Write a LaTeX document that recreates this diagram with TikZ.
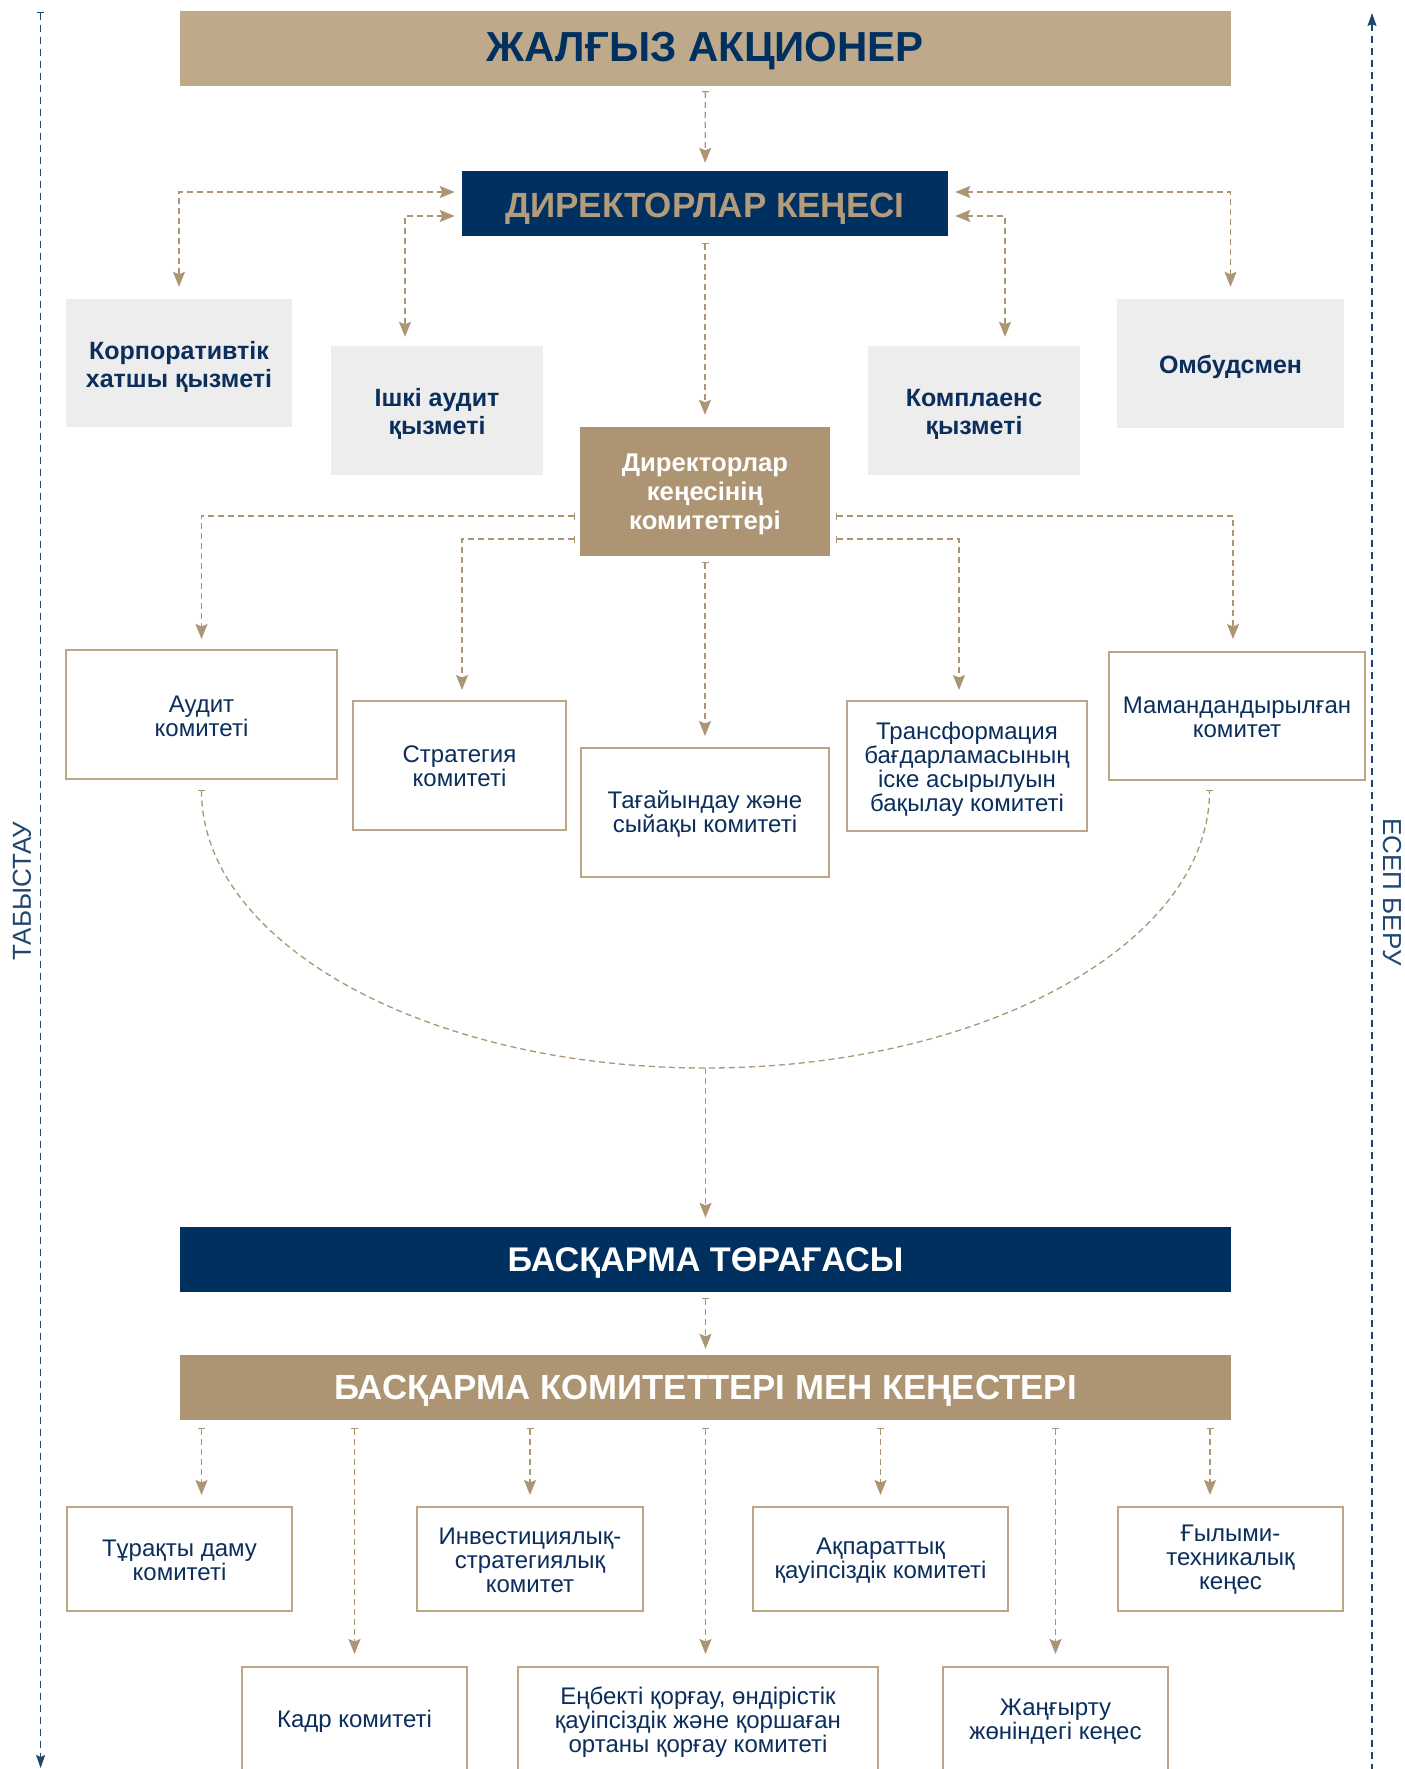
\documentclass[tikz,border=0pt]{standalone}
\usepackage{fontspec}
\setmainfont{Liberation Sans}
\usetikzlibrary{arrows.meta}
\definecolor{navy}{HTML}{00305F}
\definecolor{tanL}{HTML}{BFA98B}
\definecolor{tanD}{HTML}{AD9472}
\definecolor{tanT}{HTML}{B39C7B}
\definecolor{lineT}{HTML}{AB9573}
\definecolor{bord}{HTML}{BBA687}
\definecolor{grayb}{HTML}{EDEDED}
\definecolor{txt}{HTML}{0B2E5C}
\definecolor{sidec}{HTML}{1F466F}
\begin{document}
\begin{tikzpicture}[x=1pt,y=-1pt,
  box/.style={inner sep=0pt, align=center, anchor=center},
  head/.style={box, text depth=0pt},
  graybox/.style={box, fill=grayb},
  gtext/.style={box, text=txt, font=\bfseries\fontsize{25}{28}\selectfont},
  wbox/.style={box, fill=white, draw=bord, line width=2pt},
  wtext/.style={box, text=txt, font=\fontsize{24}{24}\selectfont},
  conn/.style={draw=lineT, line width=1.3pt, dash pattern=on 6pt off 4pt},
  sideline/.style={draw=sidec, line width=1.3pt, dash pattern=on 7pt off 5pt},
  bt/.style={arrows={Bar[width=7pt,line width=0.9pt]-Stealth[length=15pt,width=12pt,inset=2.5pt]}},
  both/.style={arrows={Stealth[length=15pt,width=12pt,inset=2.5pt]-Stealth[length=15pt,width=12pt,inset=2.5pt]}},
  endtip/.style={arrows={-Stealth[length=15pt,width=12pt,inset=2.5pt]}}
]
\useasboundingbox (0,0) rectangle (1405,1769);
\clip (0,0) rectangle (1405,1769);

% top
\node[head, text height=30pt, fill=tanL, minimum width=1051pt, minimum height=75pt, text=navy, font=\bfseries\fontsize{42}{42}\selectfont] (sh) at (705.5,48.5) {};
\node[head, text height=30pt, text=navy, font=\bfseries\fontsize{42}{42}\selectfont] (sh-t) at (705.5,47) {ЖАЛҒЫЗ АКЦИОНЕР};
\node[box, fill=navy, minimum width=486pt, minimum height=65pt] (dk) at (705,203.5) {};
\node[head, text height=25pt, text=tanT, font=\bfseries\fontsize{35}{35}\selectfont] (dk-t) at (705,205) {ДИРЕКТОРЛАР КЕҢЕСІ};

% gray services
\node[graybox, minimum width=226pt, minimum height=128pt] (corp) at (179,363) {};
\node[gtext] (corp-t) at ([yshift=-3.5pt]corp.center) {Корпоративтік\\хатшы қызметі};
\node[graybox, minimum width=212pt, minimum height=129pt] (ishki) at (437,410.5) {};
\node[gtext] (ishki-t) at ([yshift=-3pt]ishki.center) {Ішкі аудит\\қызметі};
\node[graybox, minimum width=212pt, minimum height=129pt] (kompl) at (974,410.5) {};
\node[gtext] (kompl-t) at ([yshift=-3.5pt]kompl.center) {Комплаенс\\қызметі};
\node[graybox, minimum width=227pt, minimum height=129pt] (omb) at (1230.5,363.5) {};
\node[gtext] (omb-t) at ([yshift=-3pt]omb.center) {Омбудсмен};

% committees of board
\node[box, fill=tanD, minimum width=250pt, minimum height=129pt] (dkk) at (705,491.5) {};
\node[box, text=white, font=\bfseries\fontsize{25.7}{29}\selectfont] (dkk-t) at ([yshift=-3pt]dkk.center) {Директорлар\\кеңесінің\\комитеттері};

\node[wbox, minimum width=271pt, minimum height=129pt] (audit) at (201.5,714.5) {};
\node[wtext] (audit-t) at ([yshift=-1.5pt]audit.center) {Аудит\\комитеті};
\node[wbox, minimum width=213pt, minimum height=129pt] (strat) at (459.5,765.5) {};
\node[wtext] (strat-t) at ([yshift=-1pt]strat.center) {Стратегия\\комитеті};
\node[wbox, minimum width=248pt, minimum height=129pt] (tag) at (705,812.5) {};
\node[wtext] (tag-t) at ([yshift=-1.5pt]tag.center) {Тағайындау және\\сыйақы комитеті};
\node[wbox, minimum width=240pt, minimum height=130pt] (trans) at (967,766) {};
\node[wtext] (trans-t) at ([yshift=-3pt]trans.center) {Трансформация\\бағдарламасының\\іске асырылуын\\бақылау комитеті};
\node[wbox, minimum width=256pt, minimum height=128pt] (mam) at (1237,716) {};
\node[wtext] (mam-t) at ([yshift=-1.5pt]mam.center) {Мамандандырылған\\комитет};

% management
\node[head, text height=24pt, fill=navy, minimum width=1051pt, minimum height=65pt, text=white, font=\bfseries\fontsize{34.2}{34}\selectfont] (btor) at (705.5,1259.5) {БАСҚАРМА ТӨРАҒАСЫ};
\node[head, text height=24.5pt, fill=tanD, minimum width=1051pt, minimum height=65pt, text=white, font=\bfseries\fontsize{34.8}{34}\selectfont] (bk) at (705.5,1387.5) {БАСҚАРМА КОМИТЕТТЕРІ МЕН КЕҢЕСТЕРІ};

\node[wbox, minimum width=225pt, minimum height=104pt] (tur) at (179.5,1559) {};
\node[wtext] (tur-t) at ([yshift=-1.5pt]tur.center) {Тұрақты даму\\комитеті};
\node[wbox, minimum width=226pt, minimum height=104pt] (inv) at (530,1559) {};
\node[wtext] (inv-t) at ([yshift=-1pt]inv.center) {Инвестициялық-\\стратегиялық\\комитет};
\node[wbox, minimum width=255pt, minimum height=104pt] (akp) at (880.5,1559) {};
\node[wtext] (akp-t) at ([yshift=-1.5pt]akp.center) {Ақпараттық\\қауіпсіздік комитеті};
\node[wbox, minimum width=225pt, minimum height=104pt] (gyl) at (1230.5,1559) {};
\node[wtext] (gyl-t) at ([yshift=-1pt]gyl.center) {Ғылыми-\\техникалық\\кеңес};
\node[wbox, minimum width=225pt, minimum height=108pt] (kadr) at (354.5,1721) {};
\node[wtext] (kadr-t) at (kadr.center) {Кадр комитеті};
\node[wbox, minimum width=360pt, minimum height=108pt] (enb) at (698,1721) {};
\node[wtext] (enb-t) at ([yshift=-1pt]enb.center) {Еңбекті қорғау, өндірістік\\қауіпсіздік және қоршаған\\ортаны қорғау комитеті};
\node[wbox, minimum width=225pt, minimum height=108pt] (zhan) at (1055.5,1721) {};
\node[wtext] (zhan-t) at ([yshift=-1pt]zhan.center) {Жаңғырту\\жөніндегі кеңес};

% side labels
\node[rotate=90, text=sidec, font=\fontsize{26}{26}\selectfont] (tab) at (22,891) {ТАБЫСТАУ};
\node[rotate=-90, text=sidec, font=\fontsize{26}{26}\selectfont] (esep) at (1392,892) {ЕСЕП БЕРУ};

% side lines
\coordinate (lt) at (40.6,12);
\coordinate (lb) at (40.6,1768);
\coordinate (rt) at (1372,13);
\coordinate (rb) at (1372,1775);
\draw[sideline, arrows={Bar[width=7pt,line width=0.9pt]-Stealth[length=13pt,width=9pt,inset=2pt]}] (lt) -- (lb);
\draw[sideline, arrows={Stealth[length=13pt,width=9pt,inset=2pt]-}] (rt) -- (rb);

% connectors
\draw[conn,bt,shorten <=5pt,shorten >=8pt] (sh) -- (dk);
\draw[conn,both] ([xshift=-7pt,yshift=11.5pt]dk.west) -| ([yshift=12pt]corp.north);
\draw[conn,both] ([xshift=-7pt,yshift=-12.5pt]dk.west) -| ([xshift=-32pt,yshift=9pt]ishki.north);
\draw[conn,both] ([xshift=7pt,yshift=11.5pt]dk.east) -| ([yshift=12pt]omb.north);
\draw[conn,both] ([xshift=7pt,yshift=-12.5pt]dk.east) -| ([xshift=31pt,yshift=9pt]kompl.north);
\draw[conn,bt,shorten <=7pt,shorten >=12pt] (dk) -- (dkk);

\draw[conn,bt] ([xshift=-5pt,yshift=-24.5pt]dkk.west) -| ([yshift=10pt]audit.north);
\draw[conn,bt] ([xshift=-5pt,yshift=-47.5pt]dkk.west) -| ([xshift=2.5pt,yshift=10pt]strat.north);
\draw[conn,bt] ([xshift=6pt,yshift=-24.5pt]dkk.east) -| ([xshift=-4pt,yshift=12pt]mam.north);
\draw[conn,bt] ([xshift=6pt,yshift=-47.5pt]dkk.east) -| ([xshift=-8pt,yshift=10pt]trans.north);
\draw[conn,bt,shorten <=6pt,shorten >=11pt] (dkk) -- (tag);

% arc
\coordinate (arcL) at ([yshift=-10pt]audit.south);
\coordinate (arcB) at ([xshift=504pt,yshift=-278pt]arcL);
\draw[conn, arrows={Bar[width=7pt,line width=0.9pt]-Bar[width=7pt,line width=0.9pt]}] (arcL) arc[start angle=180, end angle=360, x radius=504pt, y radius=278pt];
\draw[conn, endtip, shorten >=9pt] (arcB) -- (arcB |- btor.north);

\draw[conn,bt,shorten <=6pt,shorten >=6pt] (btor) -- (bk);

% management committees
\coordinate (gx) at ([xshift=-20.5pt]gyl.north);
\draw[conn,bt,shorten <=8pt,shorten >=11pt] (bk.south -| arcL) -- (tur.north -| arcL);
\draw[conn,bt,shorten <=8pt,shorten >=11pt] (bk.south -| inv.north) -- (inv.north);
\draw[conn,bt,shorten <=8pt,shorten >=11pt] (bk.south -| akp.north) -- (akp.north);
\draw[conn,bt,shorten <=8pt,shorten >=11pt] (bk.south -| gx) -- (gx);
\draw[conn,bt,shorten <=8pt,shorten >=12pt] (bk.south -| kadr.north) -- (kadr.north);
\draw[conn,bt,shorten <=8pt,shorten >=12pt] (bk.south) -- (bk.south |- enb.north);
\draw[conn,bt,shorten <=8pt,shorten >=12pt] (bk.south -| zhan.north) -- (zhan.north);
\end{tikzpicture}
\end{document}
